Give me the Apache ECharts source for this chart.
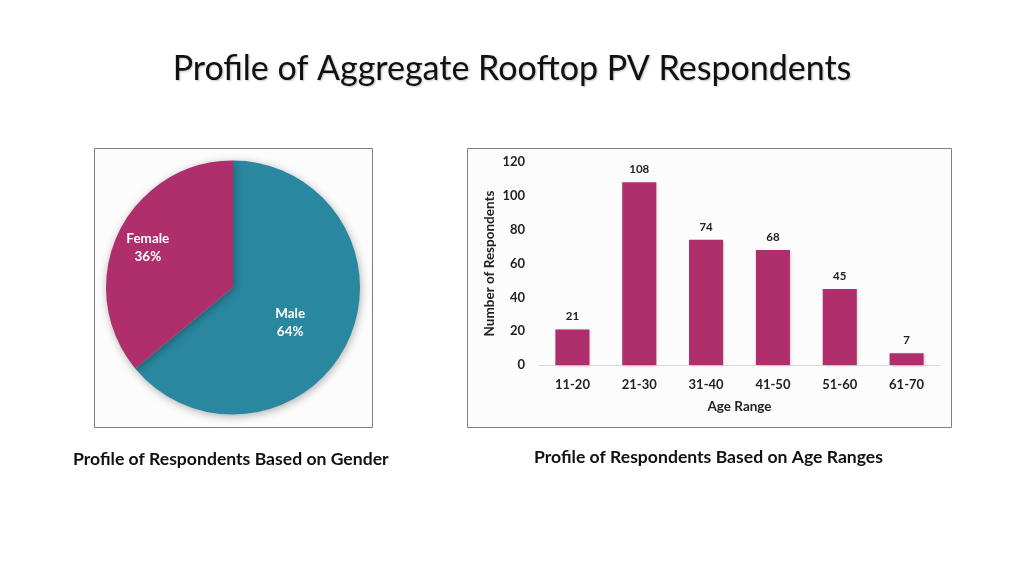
<!DOCTYPE html>
<html>
<head>
<meta charset="utf-8">
<script src="https://cdn.jsdelivr.net/npm/echarts@6/dist/echarts.min.js"></script>
<style>
html,body{margin:0;padding:0;background:#fff;}
#c{width:1024px;height:576px;}
</style>
</head>
<body>
<div id="c"></div>
<script>
// Data
const genderNames = ['Male', 'Female'];
const genderShares = [64, 36];
const ageCategories = ['11-20', '21-30', '31-40', '41-50', '51-60', '61-70'];
const ageCounts = [21, 108, 74, 68, 45, 7];
const yTicks = [0, 20, 40, 60, 80, 100, 120];

const FONT = 'Lato, "Noto Sans", sans-serif';
const MAGENTA = '#AE2F6B';
const TEAL = '#29879F';

const chart = echarts.init(document.getElementById('c'));
chart.setOption({
  backgroundColor: '#ffffff',
  animation: false,
  textStyle: { fontFamily: FONT },
  title: [
    { text: 'Profile of Aggregate Rooftop PV Respondents', left: 'center', top: 47,
      textStyle: { fontFamily: FONT, fontSize: 34, fontWeight: 'normal', color: '#111',
        textShadowColor: 'rgba(0,0,0,0.25)', textShadowBlur: 2, textShadowOffsetX: 1, textShadowOffsetY: 1 } },
    { text: 'Profile of Respondents Based on Gender', left: 73, top: 450, padding: 0,
      textStyle: { fontFamily: FONT, fontSize: 17.6, fontWeight: 'bold', color: '#111' } },
    { text: 'Profile of Respondents Based on Age Ranges', left: 534, top: 448, padding: 0,
      textStyle: { fontFamily: FONT, fontSize: 17.6, fontWeight: 'bold', color: '#111' } }
  ],
  graphic: [
    { type: 'rect', shape: { x: 94.5, y: 148.5, width: 278, height: 279 },
      style: { fill: '#fcfcfc', stroke: '#7f7f7f', lineWidth: 1 }, z: -10 },
    { type: 'rect', shape: { x: 467.5, y: 148.5, width: 484, height: 279 },
      style: { fill: '#fcfcfc', stroke: '#7f7f7f', lineWidth: 1 }, z: -10 }
  ],
  grid: { left: 539, right: 84, top: 162, bottom: 211, containLabel: false },
  xAxis: {
    type: 'category', data: ageCategories,
    axisLine: { show: true, lineStyle: { color: '#d9d9d9', width: 1 } },
    axisTick: { show: false },
    axisLabel: { fontFamily: FONT, fontSize: 13, fontWeight: 'bold', color: '#222', margin: 13 },
    name: 'Age Range', nameLocation: 'middle', nameGap: 35,
    nameTextStyle: { fontFamily: FONT, fontSize: 13.5, fontWeight: 'bold', color: '#222' }
  },
  yAxis: {
    type: 'value', min: yTicks[0], max: yTicks[yTicks.length - 1], interval: yTicks[1] - yTicks[0],
    axisLine: { show: false }, axisTick: { show: false }, splitLine: { show: false },
    axisLabel: { fontFamily: FONT, fontSize: 13, fontWeight: 'bold', color: '#222', margin: 14 },
    name: 'Number of Respondents', nameLocation: 'middle', nameGap: 42, nameRotate: 90,
    nameTextStyle: { fontFamily: FONT, fontSize: 13.5, fontWeight: 'bold', color: '#222' }
  },
  series: [
    {
      type: 'pie', center: [233, 287.5], radius: 127, startAngle: 90, clockwise: true,
      data: genderNames.map((n, i) => ({
        name: n, value: genderShares[i],
        itemStyle: { color: i === 0 ? TEAL : MAGENTA },
        label: i === 1 ? { offset: [-25, -12] } : { offset: [-3, 7] }
      })),
      itemStyle: { shadowBlur: 8, shadowColor: 'rgba(0,0,0,0.3)', shadowOffsetX: 1, shadowOffsetY: 2 },
      label: { show: true, position: 'inside', formatter: '{b}\n{c}%', color: '#fff',
        fontFamily: FONT, fontSize: 13.5, fontWeight: 'bold', lineHeight: 18 },
      labelLine: { show: false },
      emphasis: { disabled: true }
    },
    {
      type: 'bar', data: ageCounts, barWidth: '51%',
      itemStyle: { color: MAGENTA, shadowBlur: 3, shadowColor: 'rgba(0,0,0,0.2)', shadowOffsetX: 1, shadowOffsetY: 1 },
      label: { show: true, position: 'top', distance: 7, color: '#222',
        fontFamily: FONT, fontSize: 11.5, fontWeight: 'bold' },
      emphasis: { disabled: true }
    }
  ]
});
</script>
</body>
</html>
